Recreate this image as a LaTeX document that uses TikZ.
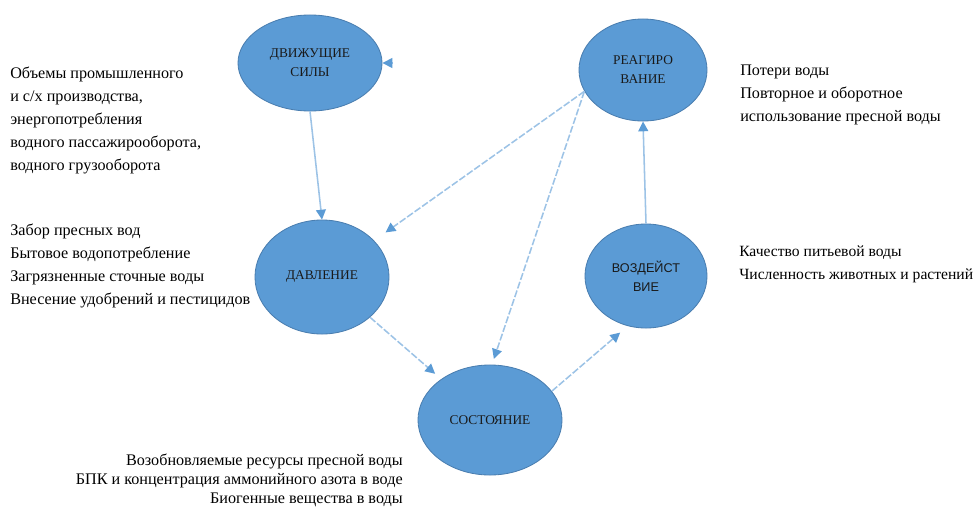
\documentclass[tikz,border=0pt]{standalone}
\usepackage{fontspec}
\setmainfont{Liberation Serif}
\newfontfamily\labelsans{Liberation Sans}
\usepackage{xcolor}
\usetikzlibrary{shapes.geometric, arrows.meta, positioning, calc}
\definecolor{stagefill}{HTML}{5B9BD5}
\definecolor{stageedge}{HTML}{4A7EB0}
\definecolor{linkline}{HTML}{9DC3E6}
\definecolor{linktip}{HTML}{5B9BD5}
\tikzset{
  stageblock/.style={
    ellipse, draw=stageedge, fill=stagefill, line width=0.6pt,
    align=center, inner sep=0pt, text=black!90,
    font=\fontsize{9.5}{13.5}\selectfont
  },
  noteblock/.style={
    inner sep=0pt, align=left, anchor=north west,
    font=\fontsize{11.5}{16.3}\selectfont
  },
  flowarrow/.style={
    draw=linkline, line width=1.1pt,
    -{Triangle[length=7pt, width=7pt, color=linktip, fill=linktip]}
  },
  dasharrow/.style={
    flowarrow, dash pattern=on 5pt off 1.5pt
  }
}

\begin{document}
\begin{tikzpicture}[x=0.025cm, y=-0.025cm]
    \useasboundingbox (0,0) rectangle (980,508);
    % stages of the cycle
    \node[stageblock, minimum width=3.6cm, minimum height=2.4cm] (drive) at (310,63) {ДВИЖУЩИЕ\\СИЛЫ};
    \node[stageblock, minimum width=3.2cm, minimum height=2.55cm] (react) at (643,70) {РЕАГИРО\\ВАНИЕ};
    \node[stageblock, minimum width=3.05cm, minimum height=2.6cm, font=\labelsans\fontsize{9}{13.5}\selectfont] (impact) at (646,276) {ВОЗДЕЙСТ\\ВИЕ};
    \node[stageblock, minimum width=3.6cm, minimum height=2.75cm] (state) at (490,420) {СОСТОЯНИЕ};
    \node[stageblock, minimum width=3.35cm, minimum height=2.85cm] (pressure) at (322,277) {ДАВЛЕНИЕ};
    % indicators
    \node[noteblock] (drivenote) at (10,67) {Объемы промышленного\\и с/х производства,\\энергопотребления\\водного пассажирооборота,\\водного грузооборота};
    \node[noteblock] (pressnote) at (10,224) {Забор пресных вод\\Бытовое водопотребление\\Загрязненные сточные воды\\Внесение удобрений и пестицидов};
    \node[noteblock] (reactnote) at (740,65) {Потери воды\\Повторное и оборотное\\использование пресной воды};
    \node[noteblock, font=\fontsize{11.1}{16.3}\selectfont] (impactnote) at (739,246) {Качество питьевой воды\\Численность животных и растений};
    \node[noteblock, anchor=north east, align=right, font=\fontsize{11.5}{13.5}\selectfont] (statenote) at (403,454) {Возобновляемые ресурсы пресной воды\\БПК и концентрация аммонийного азота в воде\\Биогенные вещества в воды};
    % links
    \coordinate (loose) at (393,63);
    \draw[flowarrow] (loose) -- (drive.east);
    \draw[flowarrow] (drive.south) -- (pressure.north);
    \draw[dasharrow, shorten >=0.2cm] (pressure.-40) -- (state.140);
    \draw[dasharrow, shorten >=0.25cm] (state.25) -- (impact.250);
    \draw[flowarrow] (impact.north) -- (react.south);
    \draw[dasharrow, shorten >=0.35cm] (react.200) -- (pressure.35);
    \draw[dasharrow, shorten >=0.15cm] (react.200) -- (state.88);
\end{tikzpicture}
\end{document}
